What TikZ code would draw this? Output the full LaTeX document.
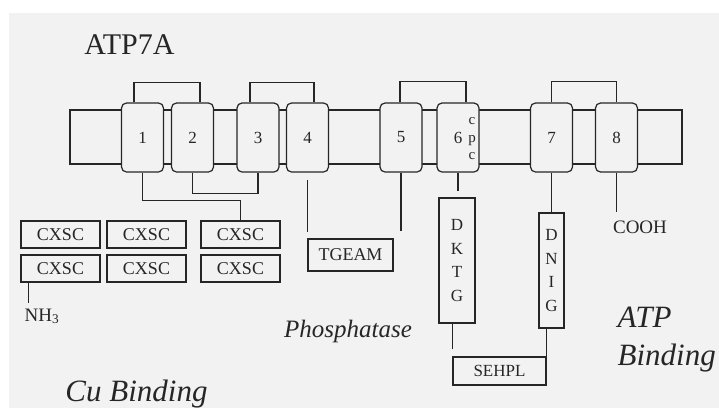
\documentclass[tikz,border=0pt]{standalone}
\usepackage{fontspec}
\setmainfont{Liberation Serif}
\usetikzlibrary{calc}
\definecolor{paper}{gray}{0.95}
\definecolor{ink}{gray}{0.15}
\newcommand{\fs}[1]{\fontsize{#1}{#1}\selectfont}

\begin{document}
\begin{tikzpicture}[x=1pt, y=-1pt, line width=1.2pt, color=ink,
  tmbox/.style={draw, fill=paper, rounded corners=5pt, minimum width=42pt, minimum height=69pt,
    inner sep=0pt, font=\fs{17}},
  motif/.style={draw, fill=paper, inner sep=0pt, font=\fs{18}},
  letters/.style={motif, align=center, font=\fontsize{17}{23.5}\selectfont}]
  \useasboundingbox (0,0) rectangle (719,408);
  \fill[paper] (9,13) rectangle (719,408);
  \node[font=\fs{30}] (title) at (129.5,45) {ATP7A};
  % ---------------------------------------------------------------- membrane and the eight helices
  \draw (70,110) rectangle (682,164);
  \foreach \n/\x in {1/142.5,2/192.5,3/258,4/307.5,5/401,6/458,7/551.5,8/616.5}
    \node[tmbox] (tm\n) at (\x,137.5) {\n};
  \node[align=center, inner sep=0pt, font=\fontsize{15}{17.5}\selectfont] (cpc) at (472,139) {c\\p\\c};
  % loops on the outer side
  \draw ([xshift=-8.5]tm1.north) -- ++(0,-20) -| ([xshift=7.5]tm2.north);
  \draw ([xshift=-8]tm3.north) -- ++(0,-20) -| ([xshift=6.5]tm4.north);
  \draw ([xshift=-1]tm5.north) -- ++(0,-21) -| ([xshift=8]tm6.north);
  \draw (tm7.north) -- ++(0,-21) -| (tm8.north);
  % ---------------------------------------------------------------- Cu binding motifs
  \foreach \r/\y in {1/234.5,2/268.5}
    \foreach \c/\x in {1/60.5,2/146.5,3/240.5}
      \node[motif, minimum width=79pt, minimum height=27pt] (cx\r\c) at (\x,\y) {CXSC};
  \draw (tm1.south) -- ++(0,28) -| (cx13.north);
  \draw (tm2.south) -- ++(0,21) -| (tm3.south);
  \coordinate (nhtop) at ([xshift=8]cx21.south west);
  \node[anchor=north west, inner sep=0pt, font=\fs{19}] (nh3) at (24,308) {NH\textsubscript{3}};
  \draw[shorten >=5pt] (nhtop) -- (nhtop |- nh3.north);
  % ---------------------------------------------------------------- phosphatase
  \node[motif, minimum width=85pt, minimum height=32pt] (tgeam) at (350.5,255) {TGEAM};
  \draw[shorten <=7pt, shorten >=6pt] (tm4.south) -- (tm4.south |- tgeam.north);
  \draw[shorten >=7pt] (tm5.south) -- (tm5.south |- tgeam.north);
  % ---------------------------------------------------------------- phosphorylation and ATP binding
  \node[letters, minimum width=36pt, minimum height=125pt] (dktg) at (457,260.5) {D\\K\\T\\G};
  \node[letters, minimum width=25pt, minimum height=115pt] (dnig) at (551.5,270.5) {D\\N\\I\\G};
  \node[motif, minimum width=93pt, minimum height=28pt, font=\fs{17}] (sehpl) at (499.5,371) {SEHPL};
  \draw[shorten >=6pt] (tm6.south) -- (tm6.south |- dktg.north);
  \draw (tm7.south) -- (dnig.north);
  \draw[shorten <=7pt] (sehpl.north west) -- (sehpl.north west |- dktg.south);
  \draw (sehpl.north east) -- (sehpl.north east |- dnig.south);
  \node[inner sep=0pt, font=\fs{19}] (cooh) at (640,227) {COOH};
  \draw[shorten >=8pt] (tm8.south) -- (tm8.south |- cooh.north);
  % ---------------------------------------------------------------- domain names
  \node[font=\fs{31}\itshape] (cubind) at (136.5,394) {Cu Binding};
  \node[font=\fs{25}\itshape] (phos) at (348,331) {Phosphatase};
  \node[anchor=north west, align=left, inner sep=0pt, font=\fontsize{31}{38}\selectfont\itshape]
    (atpbind) at (617,306) {ATP\\Binding};
\end{tikzpicture}
\end{document}
